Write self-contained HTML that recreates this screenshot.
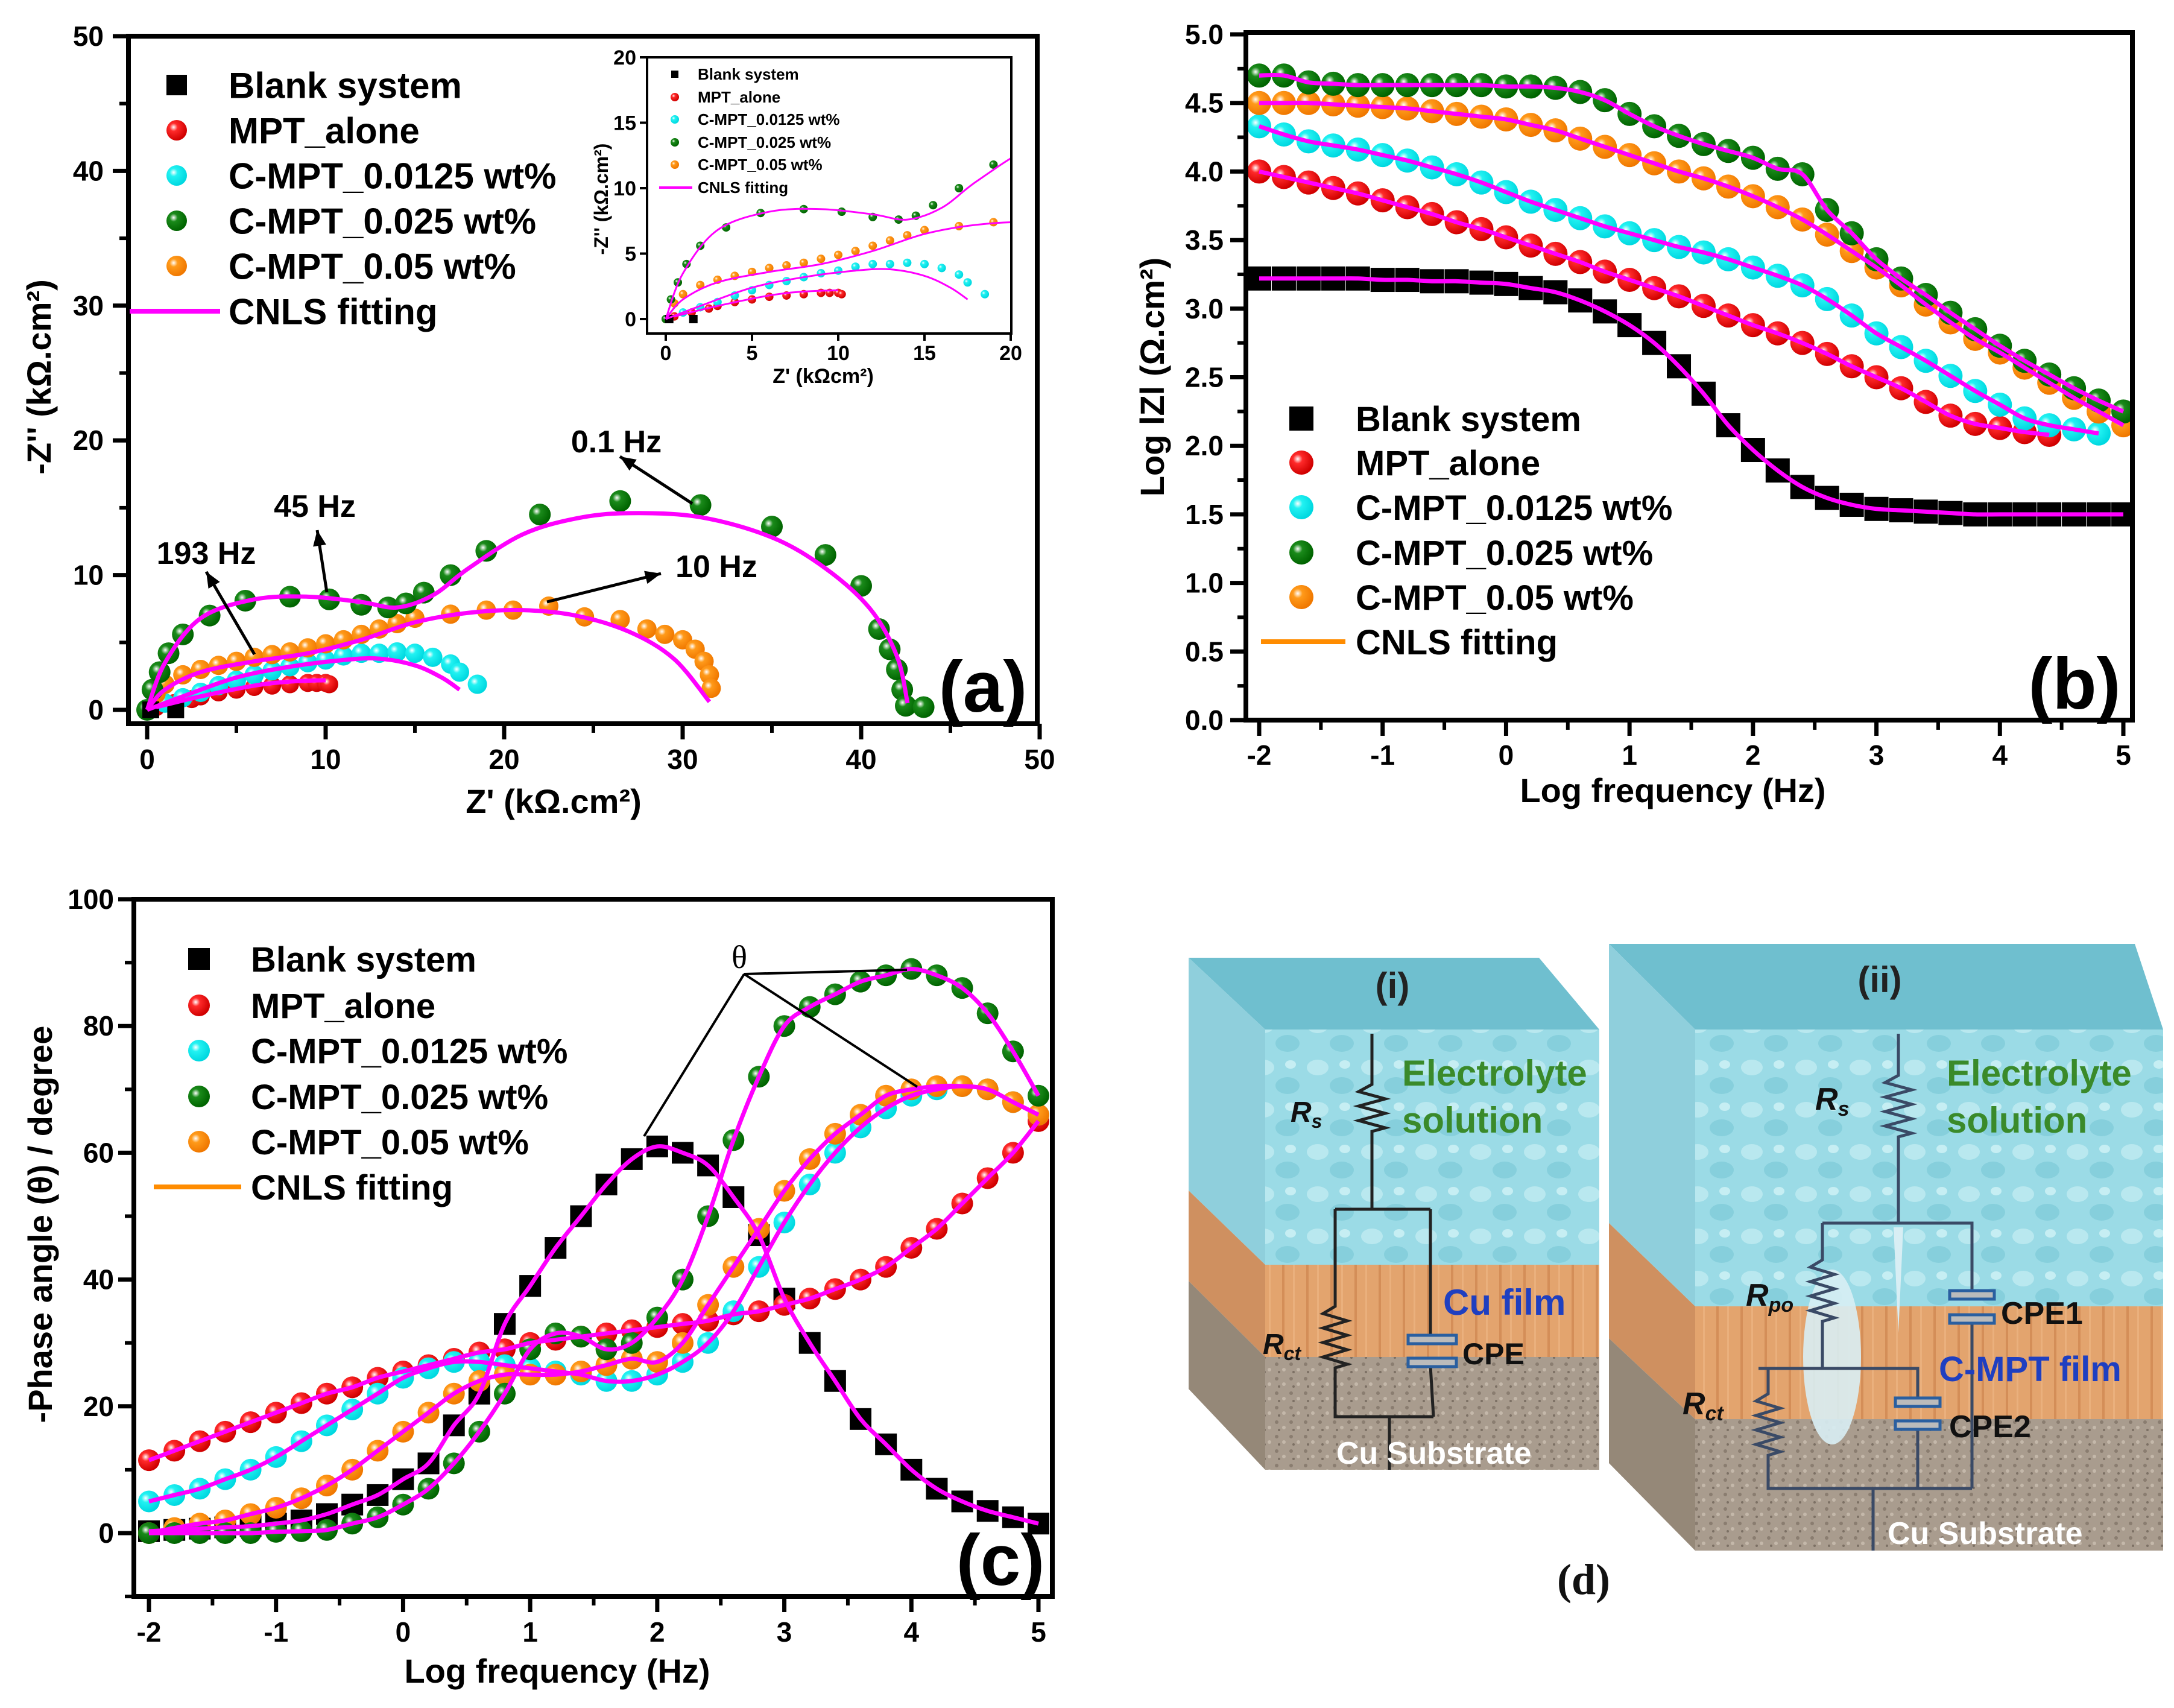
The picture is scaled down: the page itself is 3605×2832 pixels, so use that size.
<!DOCTYPE html>
<html><head><meta charset="utf-8"><style>
html,body{margin:0;padding:0;background:#fff}
svg{display:block}
text{font-family:"Liberation Sans",Arial,sans-serif;font-weight:bold}
</style></head><body>
<svg id="fig" width="3605" height="2832" viewBox="0 0 3605 2832" xmlns="http://www.w3.org/2000/svg">
<defs>
<radialGradient id="g-black" cx="35%" cy="35%" r="65%"><stop offset="0" stop-color="#888"/><stop offset="0.4" stop-color="#000"/><stop offset="1" stop-color="#000"/></radialGradient>
<radialGradient id="g-red" cx="35%" cy="35%" r="65%"><stop offset="0" stop-color="#fff"/><stop offset="0.3" stop-color="#ff2a2a"/><stop offset="1" stop-color="#d00000"/></radialGradient>
<radialGradient id="g-cyan" cx="35%" cy="35%" r="65%"><stop offset="0" stop-color="#fff"/><stop offset="0.3" stop-color="#22f2f2"/><stop offset="1" stop-color="#00d8e0"/></radialGradient>
<radialGradient id="g-green" cx="35%" cy="35%" r="65%"><stop offset="0" stop-color="#fff"/><stop offset="0.3" stop-color="#1a8a1a"/><stop offset="1" stop-color="#006400"/></radialGradient>
<radialGradient id="g-orange" cx="35%" cy="35%" r="65%"><stop offset="0" stop-color="#fff"/><stop offset="0.3" stop-color="#ff9a1a"/><stop offset="1" stop-color="#f07800"/></radialGradient>
<clipPath id="clip-a"><rect x="213" y="60" width="1507" height="1140"/></clipPath>
<clipPath id="clip-inset"><rect x="1073" y="95" width="604" height="458"/></clipPath>
<clipPath id="clip-b"><rect x="2066" y="54" width="1470" height="1140"/></clipPath>
<clipPath id="clip-c"><rect x="222" y="1491" width="1523" height="1156"/></clipPath>
<pattern id="water" width="90" height="70" patternUnits="userSpaceOnUse"><rect width="90" height="70" fill="#9bdbe6"/><ellipse cx="25" cy="20" rx="18" ry="13" fill="#b9e8ef"/><ellipse cx="65" cy="50" rx="20" ry="14" fill="#86cfdc"/><ellipse cx="70" cy="15" rx="9" ry="7" fill="#c6eef3"/></pattern>
<pattern id="wood" width="40" height="40" patternUnits="userSpaceOnUse"><rect width="40" height="40" fill="#e3a46e"/><rect x="6" width="4" height="40" fill="#d48e58"/><rect x="24" width="3" height="40" fill="#eab07d"/></pattern>
<pattern id="sand" width="24" height="24" patternUnits="userSpaceOnUse"><rect width="24" height="24" fill="#a99c8e"/><circle cx="5" cy="6" r="3" fill="#8a7d70"/><circle cx="17" cy="15" r="3" fill="#c4b8aa"/><circle cx="9" cy="19" r="2" fill="#7c7064"/></pattern>
</defs>
<g id="panel-a"></g>
<g id="panel-b"></g>
<g id="panel-c"></g>

<g id="panel-d">
  <g>
    <polygon points="1971,1588 2552,1588 2652,1707 2098,1707" fill="#6fbfcf"/>
    <polygon points="1971,1588 2098,1707 2098,2097 1971,1974" fill="#8fcfdc"/>
    <polygon points="1971,1974 2098,2097 2098,2250 1971,2124" fill="#cf9060"/>
    <polygon points="1971,2124 2098,2250 2098,2437 1971,2303" fill="#958878"/>
    <rect x="2098" y="1707" width="554" height="390" fill="url(#water)"/>
    <rect x="2098" y="2097" width="554" height="153" fill="url(#wood)"/>
    <rect x="2098" y="2250" width="554" height="187" fill="url(#sand)"/>
    <g fill="none" stroke="#222" stroke-width="5">
      <path d="M2275,1714 L2275,1798 l-22,12 l44,12 l-44,12 l44,12 l-44,12 l44,12 l-22,6 L2275,2005"/>
      <path d="M2214,2005 L2372,2005"/>
      <path d="M2214,2005 L2214,2166 l-20,12 l40,12 l-40,12 l40,12 l-40,12 l40,12 l-40,12 l40,12 l-20,6 L2214,2349 L2377,2349"/>
      <path d="M2372,2005 L2372,2219 M2372,2265 L2377,2349 M2304,2349 L2304,2437"/>
    </g>
    <rect x="2335" y="2214" width="80" height="14" fill="#bbb" stroke="#2a5fa0" stroke-width="5"/>
    <rect x="2335" y="2252" width="80" height="14" fill="#bbb" stroke="#2a5fa0" stroke-width="5"/>
    <text x="2309" y="1655" font-size="60" font-weight="normal" text-anchor="middle" fill="#222">(i)</text>
    <text x="2325" y="1800" font-size="60" fill="#3a8a2a">Electrolyte</text>
    <text x="2325" y="1878" font-size="60" fill="#3a8a2a">solution</text>
    <text x="2393" y="2180" font-size="60" fill="#1f3fc0">Cu film</text>
    <text x="2425" y="2262" font-size="50" fill="#111">CPE</text>
    <text x="2216" y="2427" font-size="52" fill="#fff">Cu Substrate</text>
    <text x="2140" y="1860" font-size="48" font-style="italic" fill="#111">R<tspan font-size="32" dy="10">s</tspan></text>
    <text x="2094" y="2245" font-size="48" font-style="italic" fill="#111">R<tspan font-size="32" dy="10">ct</tspan></text>
  </g>
  <g>
    <polygon points="2668,1565 3540,1565 3587,1707 2811,1707" fill="#6fbfcf"/>
    <polygon points="2668,1565 2811,1707 2811,2166 2668,2028" fill="#8fcfdc"/>
    <polygon points="2668,2028 2811,2166 2811,2353 2668,2219" fill="#cf9060"/>
    <polygon points="2668,2219 2811,2353 2811,2571 2668,2426" fill="#958878"/>
    <rect x="2811" y="1707" width="776" height="459" fill="url(#water)"/>
    <rect x="2811" y="2166" width="776" height="187" fill="url(#wood)"/>
    <rect x="2811" y="2353" width="776" height="218" fill="url(#sand)"/>
    <ellipse cx="3038" cy="2250" rx="48" ry="145" fill="#d8eef4" opacity="0.9"/>
    <path d="M3140,2035 L3156,2035 L3148,2210 Z" fill="#d8eef4"/>
    <g fill="none" stroke="#3a4a66" stroke-width="5">
      <path d="M3148,1714 L3148,1783 l-22,12 l44,12 l-44,12 l44,12 l-44,12 l44,12 l-44,12 l44,12 l-22,6 L3148,2028"/>
      <path d="M3022,2028 L3270,2028 L3270,2147 M3270,2189 L3270,2468"/>
      <path d="M3022,2028 L3022,2089 l-20,12 l40,12 l-40,12 l40,12 l-40,12 l40,12 l-40,12 l40,12 l-20,6 L3022,2269"/>
      <path d="M2916,2269 L3180,2269 L3180,2322 M3180,2368 L3180,2468"/>
      <path d="M2932,2269 L2932,2311 l-20,12 l40,12 l-40,12 l40,12 l-40,12 l40,12 l-40,12 l40,12 l-20,6 L2932,2468 L3270,2468 M3106,2468 L3106,2571"/>
    </g>
    <rect x="3233" y="2140" width="74" height="14" fill="#bbb" stroke="#2a5fa0" stroke-width="5"/>
    <rect x="3233" y="2180" width="74" height="14" fill="#bbb" stroke="#2a5fa0" stroke-width="5"/>
    <rect x="3143" y="2318" width="74" height="14" fill="#bbb" stroke="#2a5fa0" stroke-width="5"/>
    <rect x="3143" y="2356" width="74" height="14" fill="#bbb" stroke="#2a5fa0" stroke-width="5"/>
    <text x="3117" y="1645" font-size="60" font-weight="normal" text-anchor="middle" fill="#222">(ii)</text>
    <text x="3228" y="1800" font-size="60" fill="#3a8a2a">Electrolyte</text>
    <text x="3228" y="1878" font-size="60" fill="#3a8a2a">solution</text>
    <text x="3010" y="1840" font-size="52" font-style="italic" fill="#111">R<tspan font-size="34" dy="10">s</tspan></text>
    <text x="2895" y="2165" font-size="52" font-style="italic" fill="#111">R<tspan font-size="34" dy="10">po</tspan></text>
    <text x="2790" y="2345" font-size="52" font-style="italic" fill="#111">R<tspan font-size="34" dy="10">ct</tspan></text>
    <text x="3318" y="2195" font-size="52" fill="#111">CPE1</text>
    <text x="3215" y="2290" font-size="58" fill="#1f3fc0">C-MPT film</text>
    <text x="3232" y="2383" font-size="52" fill="#111">CPE2</text>
    <text x="3130" y="2560" font-size="52" fill="#fff">Cu Substrate</text>
  </g>
  <text x="2626" y="2643" font-size="72" text-anchor="middle" font-family="Liberation Serif,serif" style="font-family:'Liberation Serif',serif" fill="#111">(d)</text>
</g>
</svg>
<script>
// ---------- Panel (a) Nyquist data (kΩ·cm²) ----------
const aGreenX = [0,0.3,0.7,1.2,2,3.5,5.5,8,10.2,12,13.5,14.5,15.5,17,19,22,26.5,31,35,38,40,41,41.6,42,42.3,42.5,43.5];
const aGreenY = [0,1.5,2.8,4.2,5.6,7,8.1,8.4,8.2,7.8,7.6,7.9,8.7,10,11.8,14.5,15.5,15.2,13.6,11.5,9.2,6,4.5,3,1.5,0.3,0.2];
const aOrangeX = [0,0.5,1,2,3,4,5,6,7,8,9,10,11,12,13,14,15,17,19,20.5,22.5,24.5,26.5,28,29,30,30.7,31.2,31.5,31.6];
const aOrangeY = [0,1.2,1.9,2.6,3,3.3,3.6,3.9,4.1,4.3,4.6,4.9,5.2,5.6,6,6.4,6.8,7.1,7.4,7.4,7.7,6.9,6.7,6,5.6,5.2,4.5,3.6,2.6,1.6];
const aCyanX = [0,1,2,3,4,5,6,7,8,9,10,11,12,13,14,15,16,17,17.5,18.5];
const aCyanY = [0,0.5,0.9,1.3,1.8,2.2,2.6,2.9,3.2,3.5,3.7,4,4.2,4.2,4.3,4.2,3.9,3.4,2.8,1.9];
const aRedX = [0.5,1.5,2.5,3,4,5,6,7,8,9,9.5,10,10.2];
const aRedY = [0.2,0.5,0.8,1,1.3,1.5,1.7,1.8,1.9,2,2,2,1.9];
const aBlackX = [0.2,1.6];
const aBlackY = [0,0];
const aFitGreenX = [0,1,3,6,9,12,14,16,18,21,24,27,31,35,38,40.5,42,42.6];
const aFitGreenY = [0,3.5,6.8,8.2,8.4,8,7.6,8.5,10.5,13,14.2,14.6,14.3,12.8,10.5,7.5,4,0.5];
const aFitOrangeX = [0,1,3,6,9,12,15,18,21,24,27,29.5,31.5];
const aFitOrangeY = [0,1.5,2.8,3.6,4.2,5.2,6.5,7.2,7.4,7,5.8,3.8,0.6];
const aFitCyanX = [0,2,5,8,11,13,15,16.5,17.5];
const aFitCyanY = [0,1,2.4,3.2,3.7,3.8,3.3,2.4,1.5];
const aFitRedX = [0.5,3,6,8,10];
const aFitRedY = [0.2,1,1.8,2.1,2.2];
const aTicks = [0,10,20,30,40,50];
const insetTicks = [0,5,10,15,20];

// ---------- Panel (b) & (c) Bode data ----------
const logF = [-2,-1.8,-1.6,-1.4,-1.2,-1,-0.8,-0.6,-0.4,-0.2,0,0.2,0.4,0.6,0.8,1,1.2,1.4,1.6,1.8,2,2.2,2.4,2.6,2.8,3,3.2,3.4,3.6,3.8,4,4.2,4.4,4.6,4.8,5];
const bBlack = [3.22,3.22,3.22,3.22,3.22,3.21,3.21,3.2,3.2,3.19,3.18,3.15,3.12,3.06,2.98,2.88,2.75,2.58,2.38,2.15,1.97,1.82,1.7,1.62,1.57,1.54,1.53,1.52,1.51,1.5,1.5,1.5,1.5,1.5,1.5,1.5];
const bRed = [4.0,3.96,3.92,3.88,3.84,3.79,3.74,3.69,3.63,3.58,3.52,3.46,3.4,3.34,3.27,3.21,3.15,3.09,3.02,2.95,2.88,2.82,2.75,2.67,2.58,2.5,2.42,2.32,2.22,2.16,2.13,2.1,2.08,null,null,null];
const bCyan = [4.33,4.27,4.22,4.19,4.16,4.12,4.08,4.03,3.98,3.92,3.85,3.78,3.72,3.66,3.6,3.55,3.5,3.45,3.41,3.36,3.3,3.24,3.17,3.07,2.95,2.82,2.72,2.62,2.51,2.4,2.3,2.2,2.15,2.12,2.09,null];
const bGreen = [4.7,4.7,4.65,4.64,4.63,4.63,4.63,4.63,4.63,4.63,4.62,4.62,4.61,4.58,4.52,4.42,4.33,4.26,4.2,4.15,4.1,4.02,3.98,3.72,3.55,3.36,3.22,3.1,2.97,2.85,2.73,2.62,2.52,2.42,2.33,2.25];
const bOrange = [4.5,4.5,4.5,4.49,4.48,4.47,4.46,4.44,4.42,4.4,4.38,4.34,4.3,4.24,4.18,4.12,4.06,4.0,3.95,3.89,3.82,3.74,3.65,3.54,3.42,3.3,3.17,3.03,2.9,2.78,2.68,2.57,2.46,2.35,2.25,2.15];
const bXTicks = [-2,-1,0,1,2,3,4,5];
const bYTicks = ["0.0","0.5","1.0","1.5","2.0","2.5","3.0","3.5","4.0","4.5","5.0"];
const cBlack = [0.3,0.5,0.7,0.9,1.1,1.5,2,3,4.5,6,8.5,11,17,22,33,39,45,50,55,59,61,60,58,53,47,37,30,24,18,14,10,7,5,3.5,2.5,1.5];
const cRed = [11.5,13,14.5,16,17.5,19,20.5,22,23,24.5,25.5,26.5,27.5,28.5,29,30,30.5,31,31.5,32,32.5,33,33.5,34.5,35,36,37,38.5,40,42,45,48,52,56,60,65];
const cCyan = [5,6,7,8.5,10,12,14.5,17,19.5,22,24.5,26,27,27,26.5,26,25.5,25,24,24,25,27,30,35,42,49,55,60,64,67,69,70,70.5,70,68,66];
const cGreen = [0,0,0,0,0,0.2,0.3,0.5,1.5,2.5,4.5,7,11,16,22,29,31.5,31,29,30,34,40,50,62,72,80,83,85,87,88,89,88,86,82,76,69];
const cOrange = [0,0.8,1.5,2,3,4,5.5,7.5,10,13,16,19,22,24,25,25,25,25.5,26.5,27.5,27,30,36,42,48,54,59,63,66,69,70,70.5,70.5,70,68,66];
const cYTicks = [0,20,40,60,80,100];
const legendNames = ["Blank system","MPT_alone","C-MPT_0.0125 wt%","C-MPT_0.025 wt%","C-MPT_0.05 wt%"];

const NS = "http://www.w3.org/2000/svg";
function el(tag, attrs, parent){const e=document.createElementNS(NS,tag);for(const k in attrs)e.setAttribute(k,attrs[k]);if(parent)parent.appendChild(e);return e;}
function txt(parent,x,y,s,size,anchor,extra){const t=el('text',Object.assign({x:x,y:y,'font-size':size,'text-anchor':anchor||'start'},extra||{}),parent);t.textContent=s;return t;}
function lin(d0,d1,p0,p1){return v=>p0+(v-d0)*(p1-p0)/(d1-d0);}
function smoothPath(pts){if(pts.length<2)return'';let d='M'+pts[0][0]+','+pts[0][1];for(let i=0;i<pts.length-1;i++){const p0=pts[Math.max(0,i-1)],p1=pts[i],p2=pts[i+1],p3=pts[Math.min(pts.length-1,i+2)];const c1x=p1[0]+(p2[0]-p0[0])/6,c1y=p1[1]+(p2[1]-p0[1])/6,c2x=p2[0]-(p3[0]-p1[0])/6,c2y=p2[1]-(p3[1]-p1[1])/6;d+=' C'+c1x+','+c1y+' '+c2x+','+c2y+' '+p2[0]+','+p2[1];}return d;}
const fills=["url(#g-black)","url(#g-red)","url(#g-cyan)","url(#g-green)","url(#g-orange)"];
function marker(parent,kind,x,y,r){
  if(kind===0){const m=el('rect',{x:x-r,y:y-r,width:2*r,height:2*r,fill:'#000'},parent);
    
    return m;}
  const m=el('circle',{cx:x,cy:y,r:r,fill:fills[kind]},parent);
  
  return m;
}
function frame(g,x0,y0,x1,y1,w){const r=el('rect',{x:x0,y:y0,width:x1-x0,height:y1-y0,fill:'none',stroke:'#000','stroke-width':w},g);
  
  }
function legend(g,mx,tx,rows,size,r,lineColor,lineX0,lineX1,lw){
  for(let i=0;i<5;i++){
    const lg=el('g',{},g);
    
    
    marker(lg,i,mx,rows[i],r);
    txt(lg,tx,rows[i]+size*0.36,legendNames[i],size);
  }
  const lg=el('g',{},g);
  
  
  el('line',{x1:lineX0,x2:lineX1,y1:rows[5],y2:rows[5],stroke:lineColor,'stroke-width':lw},lg);
  txt(lg,tx,rows[5]+size*0.36,"CNLS fitting",size);
}

// ================= Panel A =================
(function(){
  const g=document.getElementById('panel-a');
  const X=lin(0,50,244,1724), Y=lin(0,50,1177,60);
  const plot=el('g',{'clip-path':'url(#clip-a)'},g);
  const fitsX=[aFitRedX,aFitCyanX,aFitOrangeX,aFitGreenX], fitsY=[aFitRedY,aFitCyanY,aFitOrangeY,aFitGreenY];
  const sx=[aBlackX,aRedX,aCyanX,aGreenX,aOrangeX], sy=[aBlackY,aRedY,aCyanY,aGreenY,aOrangeY];
  const radii=[14,15,16,18,16];
  [1,2,4,3,0].forEach(k=>{
    const s=el('g',{},plot);
    
    
    for(let i=0;i<sx[k].length;i++)marker(s,k,X(sx[k][i]),Y(sy[k][i]),radii[k]);
  });
  for(let f=0;f<4;f++){
    const p=el('path',{d:smoothPath(fitsX[f].map((v,i)=>[X(v),Y(fitsY[f][i])])),fill:'none',stroke:'#ff00ff','stroke-width':7},plot);
    
    
  }
  frame(g,213,60,1720,1200,8);
  aTicks.forEach(v=>{
    el('line',{x1:X(v),x2:X(v),y1:1200,y2:1226,stroke:'#000','stroke-width':7},g);
    el('line',{x1:213,x2:187,y1:Y(v),y2:Y(v),stroke:'#000','stroke-width':7},g);
    const t1=txt(g,X(v),1275,String(v),46,'middle');
    
    
    const t2=txt(g,172,Y(v)+16,String(v),46,'end');
    
    
    if(v<50){el('line',{x1:X(v+5),x2:X(v+5),y1:1200,y2:1215,stroke:'#000','stroke-width':6},g);
      el('line',{x1:213,x2:198,y1:Y(v+5),y2:Y(v+5),stroke:'#000','stroke-width':6},g);}
  });
  const xt=txt(g,918,1348,"Z' (kΩ.cm²)",56,'middle');
  
  
  const yt=txt(g,0,0,"-Z'' (kΩ.cm²)",56,'middle',{transform:'translate(84,625) rotate(-90)'});
  
  
  legend(g,293,379,[141,216,291,366,441,516],60,17,'#ff00ff',215,365,8);
  // annotations
  const ann=el('g',{stroke:'#000','stroke-width':5},g);
  
  
  [[1148,835,1028,757],[542,982,526,879],[422,1085,342,948],[907,998,1096,951]].forEach(a=>{
    el('line',{x1:a[0],y1:a[1],x2:a[2],y2:a[3]},ann);
    const ang=Math.atan2(a[3]-a[1],a[2]-a[0]);const L=26,W=11;
    const bx=a[2]-L*Math.cos(ang),by=a[3]-L*Math.sin(ang);
    el('polygon',{points:`${a[2]},${a[3]} ${bx+W*Math.sin(ang)},${by-W*Math.cos(ang)} ${bx-W*Math.sin(ang)},${by+W*Math.cos(ang)}`,fill:'#000',stroke:'none'},ann);
  });
  [["0.1 Hz",1022,750],["45 Hz",522,857],["193 Hz",342,935],["10 Hz",1188,957]].forEach(a=>{const t=txt(g,a[1],a[2],a[0],52,'middle');
    
    });
  const pl=txt(g,1630,1180,"(a)",120,'middle');
  
  
  // inset
  const ig=el('g',{},g);
  
  
  el('rect',{x:1073,y:95,width:604,height:458,fill:'#fff'},ig);
  const IX=lin(0,20,1104,1676), IY=lin(0,20,529,95);
  const ip=el('g',{'clip-path':'url(#clip-inset)'},ig);
  [1,2,4,3,0].forEach(k=>{for(let i=0;i<sx[k].length;i++)marker(ip,k,IX(sx[k][i]),IY(sy[k][i]),k===0?7:7);});
  for(let f=0;f<4;f++){const p=el('path',{d:smoothPath(fitsX[f].map((v,i)=>[IX(v),IY(fitsY[f][i])])),fill:'none',stroke:'#ff00ff','stroke-width':3},ip);
    
    }
  frame(ig,1073,95,1677,553,4);
  insetTicks.forEach(v=>{
    el('line',{x1:IX(v),x2:IX(v),y1:553,y2:565,stroke:'#000','stroke-width':4},ig);
    el('line',{x1:1073,x2:1061,y1:IY(v),y2:IY(v),stroke:'#000','stroke-width':4},ig);
    const t1=txt(ig,IX(v),597,String(v),34,'middle');
    
    
    const t2=txt(ig,1055,IY(v)+12,String(v),34,'end');
    
    
  });
  const ixt=txt(ig,1365,635,"Z' (kΩcm²)",34,'middle');
  
  
  const iyt=txt(ig,0,0,"-Z'' (kΩ.cm²)",32,'middle',{transform:'translate(1008,330) rotate(-90)'});
  
  
  const irows=[123,161,198,236,273,311];
  for(let i=0;i<5;i++){const lg=el('g',{},ig);
    
    
    marker(lg,i,1119,irows[i],i===0?6:7);txt(lg,1157,irows[i]+9,legendNames[i],26);}
  const lg=el('g',{},ig);
  
  
  el('line',{x1:1093,x2:1148,y1:311,y2:311,stroke:'#ff00ff','stroke-width':4},lg);
  txt(lg,1157,320,"CNLS fitting",26);
})();

// ================= Panel B =================
(function(){
  const g=document.getElementById('panel-b');
  const X=lin(-2,5,2088,3521), Y=lin(0,5,1194,57);
  const plot=el('g',{'clip-path':'url(#clip-b)'},g);
  const series=[bBlack,bRed,bCyan,bGreen,bOrange];
  [0,1,2,4,3].forEach(k=>{
    const s=el('g',{},plot);
    
    
    for(let i=0;i<logF.length;i++){if(series[k][i]==null)continue;marker(s,k,X(logF[i]),Y(series[k][i]),k===0?20:20);}
  });
  series.forEach(arr=>{const pts=[];logF.forEach((v,i)=>{if(arr[i]!=null)pts.push([X(v),Y(arr[i])]);});
    const p=el('path',{d:smoothPath(pts),fill:'none',stroke:'#ff00ff','stroke-width':7},plot);
    
    });
  frame(g,2066,54,3536,1194,8);
  bXTicks.forEach(v=>{
    el('line',{x1:X(v),x2:X(v),y1:1194,y2:1220,stroke:'#000','stroke-width':7},g);
    if(v<5)el('line',{x1:X(v+0.5),x2:X(v+0.5),y1:1194,y2:1210,stroke:'#000','stroke-width':6},g);
    const t=txt(g,X(v),1268,String(v),46,'middle');
    
    
  });
  bYTicks.forEach(s=>{const v=parseFloat(s);
    el('line',{x1:2066,x2:2040,y1:Y(v),y2:Y(v),stroke:'#000','stroke-width':7},g);
    if(v<5)el('line',{x1:2066,x2:2052,y1:Y(v+0.25),y2:Y(v+0.25),stroke:'#000','stroke-width':6},g);
    const t=txt(g,2029,Y(v)+16,s,46,'end');
    
    
  });
  const xt=txt(g,2774,1330,"Log frequency (Hz)",56,'middle');
  
  
  const yt=txt(g,0,0,"Log lZl (Ω.cm²)",56,'middle',{transform:'translate(1930,625) rotate(-90)'});
  
  
  legend(g,2158,2248,[694,767,841,916,990,1064],58,20,'#ff8c00',2091,2231,8);
  const pl=txt(g,3440,1175,"(b)",120,'middle');
  
  
})();

// ================= Panel C =================
(function(){
  const g=document.getElementById('panel-c');
  const X=lin(-2,5,247,1722), Y=lin(0,100,2542,1491);
  const plot=el('g',{'clip-path':'url(#clip-c)'},g);
  const series=[cBlack,cRed,cCyan,cGreen,cOrange];
  [0,1,2,4,3].forEach(k=>{
    const s=el('g',{},plot);
    
    
    for(let i=0;i<logF.length;i++)marker(s,k,X(logF[i]),Y(series[k][i]),k===0?18:18);
  });
  series.forEach(arr=>{const p=el('path',{d:smoothPath(logF.map((v,i)=>[X(v),Y(arr[i])])),fill:'none',stroke:'#ff00ff','stroke-width':7},plot);
    
    });
  frame(g,222,1491,1745,2647,8);
  bXTicks.forEach(v=>{
    el('line',{x1:X(v),x2:X(v),y1:2647,y2:2673,stroke:'#000','stroke-width':7},g);
    if(v<5)el('line',{x1:X(v+0.5),x2:X(v+0.5),y1:2647,y2:2662,stroke:'#000','stroke-width':6},g);
    const t=txt(g,X(v),2722,String(v),46,'middle');
    
    
  });
  cYTicks.forEach(v=>{
    el('line',{x1:222,x2:196,y1:Y(v),y2:Y(v),stroke:'#000','stroke-width':7},g);
    el('line',{x1:222,x2:207,y1:Y(v-10),y2:Y(v-10),stroke:'#000','stroke-width':6},g);
    const t=txt(g,189,Y(v)+16,String(v),46,'end');
    
    
  });
  const xt=txt(g,924,2790,"Log frequency (Hz)",56,'middle');
  
  
  const yt=txt(g,0,0,"-Phase angle (θ) / degree",56,'middle',{transform:'translate(86,2030) rotate(-90)'});
  
  
  legend(g,330,416,[1590,1667,1742,1818,1893,1968],58,18,'#ff8c00',255,400,8);
  const th=el('g',{stroke:'#000','stroke-width':4},g);
  
  
  el('line',{x1:1234,y1:1615,x2:1068,y2:1884},th);
  el('line',{x1:1234,y1:1615,x2:1504,y2:1608},th);
  el('line',{x1:1234,y1:1615,x2:1521,y2:1802},th);
  const tl=txt(g,1226,1605,"θ",54,'middle',{'font-weight':'normal','font-family':'Liberation Serif,serif',style:"font-family:'Liberation Serif',serif;font-weight:normal"});
  
  
  const pl=txt(g,1659,2628,"(c)",120,'middle');
  
  
})();
</script>
</body></html>
